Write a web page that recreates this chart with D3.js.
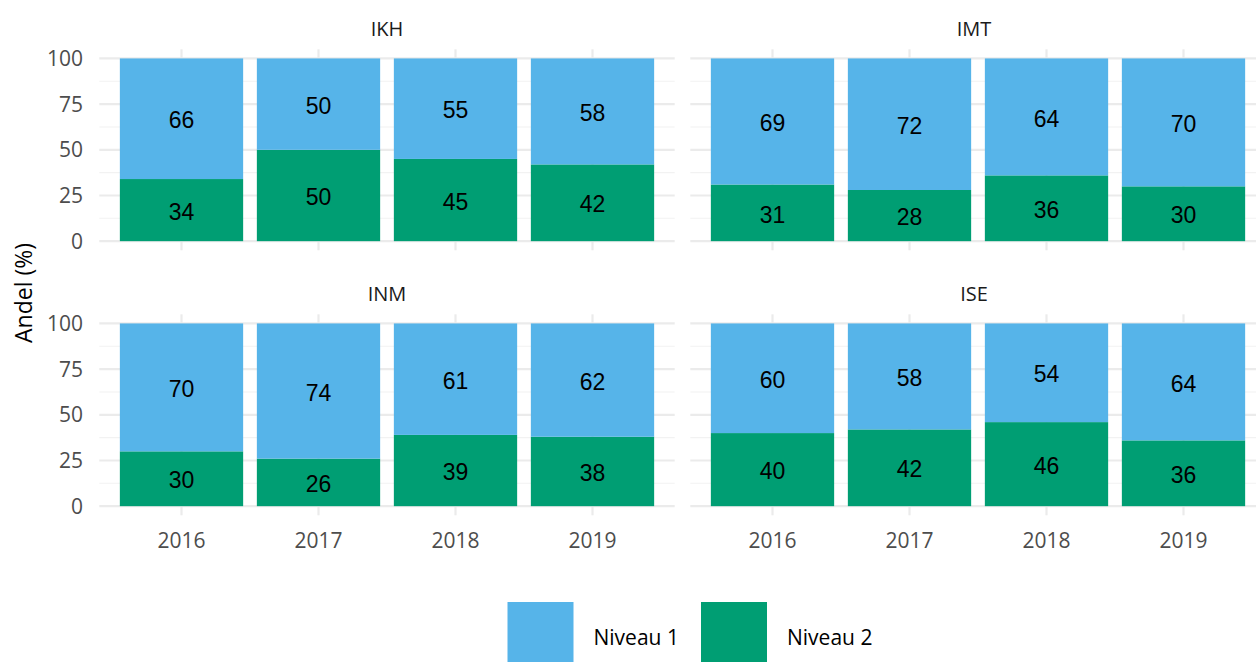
<!DOCTYPE html>
<html>
<head>
<meta charset="utf-8">
<script src="https://cdn.jsdelivr.net/npm/d3@7"></script>
<style>
  body { margin: 0; background: #fff; }
  svg { display: block; }
</style>
</head>
<body>
<div id="chart"></div>
<script>
var svgWidth = 1256;
var svgHeight = 662;

// data
var years = ["2016", "2017", "2018", "2019"];
var panels = ["IKH", "IMT", "INM", "ISE"];
var levels = ["Niveau 1", "Niveau 2"];
var niveau1 = {
  IKH: [66, 50, 55, 58],
  IMT: [69, 72, 64, 70],
  INM: [70, 74, 61, 62],
  ISE: [60, 58, 54, 64]
};
var niveau2 = {
  IKH: [34, 50, 45, 42],
  IMT: [31, 28, 36, 30],
  INM: [30, 26, 39, 38],
  ISE: [40, 42, 46, 36]
};
var yTicks = [0, 25, 50, 75, 100];
var yMinor = [12.5, 37.5, 62.5, 87.5];

var colors = { "Niveau 1": "#56B4E9", "Niveau 2": "#009E73" };

var uiFont = "'Open Sans', 'Noto Sans', sans-serif";
var labelFont = "'Liberation Sans', Arial, sans-serif";

var svg = d3.select("#chart")
  .append("svg")
  .attr("width", svgWidth)
  .attr("height", svgHeight);

// panel layout (2 x 2 facets)
var cols = [[99.3, 674.7], [690.3, 1265.7]];
var rows = [[250.3, 49.3], [515.3, 314.3]];

panels.forEach(function(name, i) {
  var col = cols[i % 2];
  var row = rows[Math.floor(i / 2)];

  var x = d3.scaleBand()
    .domain(years)
    .range(col)
    .paddingInner(0.1)
    .paddingOuter(0.15);

  var y = d3.scaleLinear()
    .domain([-5, 105])
    .range(row);

  var g = svg.append("g");

  // minor grid
  g.selectAll(".minor")
    .data(yMinor)
    .enter()
    .append("line")
    .attr("x1", col[0]).attr("x2", col[1])
    .attr("y1", d => y(d)).attr("y2", d => y(d))
    .attr("stroke", "#f2f2f2")
    .attr("stroke-width", 1.1);

  // major grid
  g.selectAll(".major")
    .data(yTicks)
    .enter()
    .append("line")
    .attr("x1", col[0]).attr("x2", col[1])
    .attr("y1", d => y(d)).attr("y2", d => y(d))
    .attr("stroke", "#ebebeb")
    .attr("stroke-width", 2.2);

  g.selectAll(".vgrid")
    .data(years)
    .enter()
    .append("line")
    .attr("x1", d => x(d) + x.bandwidth() / 2)
    .attr("x2", d => x(d) + x.bandwidth() / 2)
    .attr("y1", row[0]).attr("y2", row[1])
    .attr("stroke", "#ebebeb")
    .attr("stroke-width", 2.2);

  // stacked bars, Niveau 2 at the bottom
  var rowsData = years.map(function(yr, j) {
    return { year: yr, n1: niveau1[name][j], n2: niveau2[name][j] };
  });

  g.selectAll(".bar2")
    .data(rowsData)
    .enter()
    .append("rect")
    .attr("x", d => x(d.year))
    .attr("width", x.bandwidth())
    .attr("y", d => y(d.n2))
    .attr("height", d => y(0) - y(d.n2))
    .attr("fill", colors["Niveau 2"]);

  g.selectAll(".bar1")
    .data(rowsData)
    .enter()
    .append("rect")
    .attr("x", d => x(d.year))
    .attr("width", x.bandwidth())
    .attr("y", d => y(d.n2 + d.n1))
    .attr("height", d => y(d.n2) - y(d.n2 + d.n1))
    .attr("fill", colors["Niveau 1"]);

  // value labels
  g.selectAll(".lab2")
    .data(rowsData)
    .enter()
    .append("text")
    .attr("x", d => x(d.year) + x.bandwidth() / 2)
    .attr("y", d => y(d.n2 / 2))
    .attr("dy", "0.42em")
    .attr("text-anchor", "middle")
    .style("font-family", labelFont)
    .style("font-size", "23px")
    .attr("fill", "#000")
    .text(d => d.n2);

  g.selectAll(".lab1")
    .data(rowsData)
    .enter()
    .append("text")
    .attr("x", d => x(d.year) + x.bandwidth() / 2)
    .attr("y", d => y(d.n2 + d.n1 / 2))
    .attr("dy", "0.42em")
    .attr("text-anchor", "middle")
    .style("font-family", labelFont)
    .style("font-size", "23px")
    .attr("fill", "#000")
    .text(d => d.n1);

  // strip title
  g.append("text")
    .attr("x", (col[0] + col[1]) / 2 - (i % 2) * 4)
    .attr("y", row[1] - 21)
    .attr("dy", "0.36em")
    .attr("text-anchor", "middle")
    .style("font-family", uiFont)
    .style("font-size", "20px")
    .attr("fill", "#1a1a1a")
    .text(name);

  // y tick labels only on left column
  if (i % 2 === 0) {
    g.selectAll(".ytick")
      .data(yTicks)
      .enter()
      .append("text")
      .attr("x", 83)
      .attr("y", d => y(d))
      .attr("dy", "0.36em")
      .attr("text-anchor", "end")
      .style("font-family", uiFont)
      .style("font-size", "21px")
      .attr("fill", "#4d4d4d")
      .text(d => d);
  }

  // x tick labels only on bottom row
  if (i >= 2) {
    g.selectAll(".xtick")
      .data(years)
      .enter()
      .append("text")
      .attr("x", d => x(d) + x.bandwidth() / 2)
      .attr("y", 540)
      .attr("dy", "0.36em")
      .attr("text-anchor", "middle")
      .style("font-family", uiFont)
      .style("font-size", "21px")
      .attr("fill", "#4d4d4d")
      .text(d => d);
  }
});

// y axis title
svg.append("text")
  .attr("transform", "translate(24, 293) rotate(-90)")
  .attr("dy", "0.36em")
  .attr("text-anchor", "middle")
  .style("font-family", uiFont)
  .style("font-size", "23px")
  .attr("fill", "#000")
  .text("Andel (%)");

// legend
var legendX = [507.5, 701];
var legend = svg.append("g");
levels.forEach(function(lv, k) {
  legend.append("rect")
    .attr("x", legendX[k])
    .attr("y", 602)
    .attr("width", 66)
    .attr("height", 66)
    .attr("fill", colors[lv]);
  legend.append("text")
    .attr("x", legendX[k] + 86)
    .attr("y", 637)
    .attr("dy", "0.36em")
    .style("font-family", uiFont)
    .style("font-size", "21px")
    .attr("fill", "#000")
    .text(lv);
});
</script>
</body>
</html>
